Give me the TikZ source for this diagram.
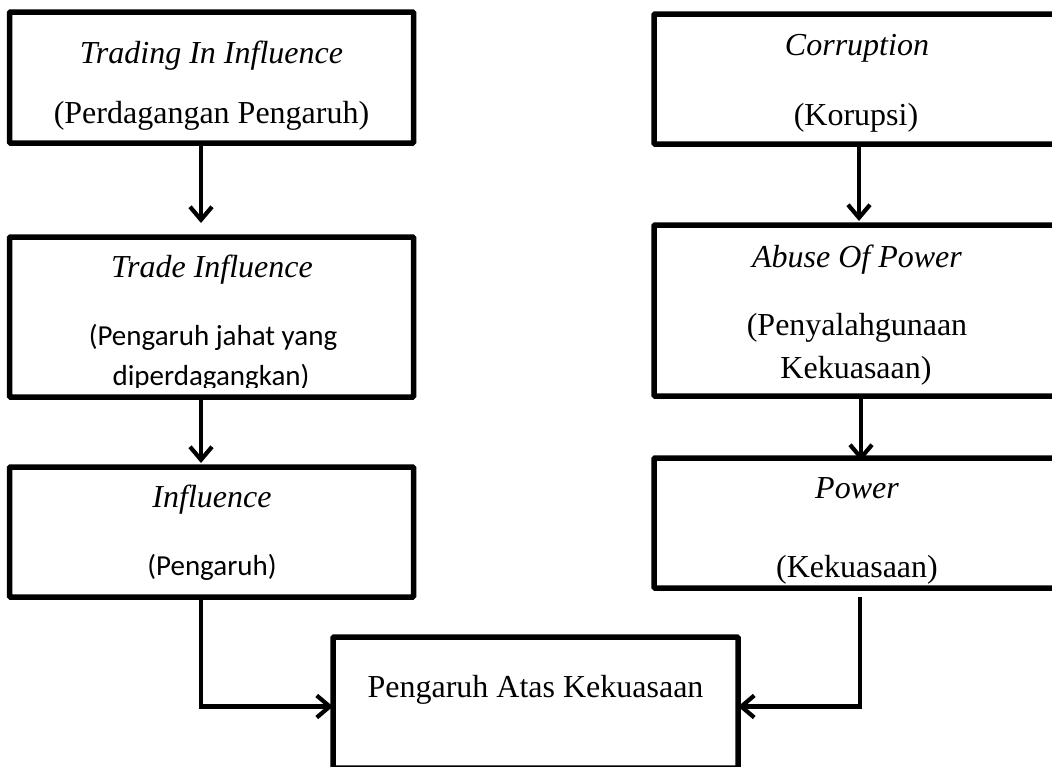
\documentclass[tikz,border=0pt]{standalone}
\usepackage{fontspec}
\setmainfont{Liberation Serif}
\newfontfamily\calib{Carlito}
\usetikzlibrary{arrows.meta}
\begin{document}
\begin{tikzpicture}[x=1pt,y=-1pt,
  box/.style={draw, line width=5.5pt, inner sep=0pt, outer sep=0pt, rounded corners=1pt, minimum width=404pt},
  conn/.style={line width=4.2pt},
  arr/.style={conn, -{Straight Barb[length=13pt,width=22pt]}},
  serif/.style={font=\fontsize{32}{38}\selectfont, anchor=base, inner sep=0pt},
  ital/.style={font=\fontsize{32}{38}\selectfont\itshape, anchor=base, inner sep=0pt},
  sans/.style={font=\fontsize{29}{35}\selectfont\calib, anchor=base, inner sep=0pt}]
\clip (0,0) rectangle (1052,766);
\fill[white] (0,0) rectangle (1052,766);

% column coordinates for connectors
\coordinate (ax) at (201,0);
\coordinate (bx) at (860,0);

% left boxes
\node[box, minimum height=131pt] (b1) at (211.5,77.5) {};
\node[box, minimum height=160pt] (b2) at (211.5,317) {};
\node[box, minimum height=130pt] (b3) at (211.5,532) {};
% right boxes
\node[box, minimum height=130pt] (r1) at (856,79) {};
\node[box, minimum height=171pt] (r2) at (856,310.5) {};
\node[box, minimum height=130pt] (r3) at (856,523) {};
% bottom box
\node[box, minimum width=405pt, minimum height=131pt] (b5) at (535.5,702.5) {};

% texts
\node[ital]  (t1a) at (211.5,63) {Trading In Influence};
\node[serif] (t1b) at (211.5,123) {(Perdagangan Pengaruh)};
\node[ital]  (t2a) at (212,277) {Trade Influence};
\node[sans]  (t2b) at (213,345) {(Pengaruh jahat yang};
\begin{scope}
  \clip (b2.north west) rectangle ([yshift=10pt]b2.south east);
  \node[sans] (t2c) at (211,385) {diperdagangkan)};
\end{scope}
\node[ital]  (t3a) at (212,507) {Influence};
\node[sans]  (t3b) at (212,575) {(Pengaruh)};

\node[ital]  (u1a) at (857,55) {Corruption};
\node[serif] (u1b) at (856,125) {(Korupsi)};
\node[ital]  (u2a) at (857,267) {Abuse Of Power};
\node[serif] (u2b) at (857,335) {(Penyalahgunaan};
\node[serif] (u2c) at (856,378) {Kekuasaan)};
\node[ital]  (u3a) at (857,498) {Power};
\node[serif] (u3b) at (857,577) {(Kekuasaan)};

\node[serif] (t5) at (535.5,697) {Pengaruh Atas Kekuasaan};

% connectors
\draw[arr, shorten >=14pt] (b1.south -| ax) -- (b2.north -| ax);
\draw[arr, shorten >=4pt] (b2.south -| ax) -- (b3.north -| ax);
\draw[arr] (b3.south -| ax) |- ([yshift=-4pt]b5.west);
\draw[arr, shorten >=4pt] ([yshift=2pt]r1.south -| {(859,0)}) -- (r2.north -| {(859,0)});
\draw[arr, shorten >=-3pt] (r2.south -| {(861,0)}) -- (r3.north -| {(861,0)});
\draw[arr] ([yshift=-9pt]r3.south -| bx) |- ([yshift=-4pt]b5.east);
\end{tikzpicture}
\end{document}
